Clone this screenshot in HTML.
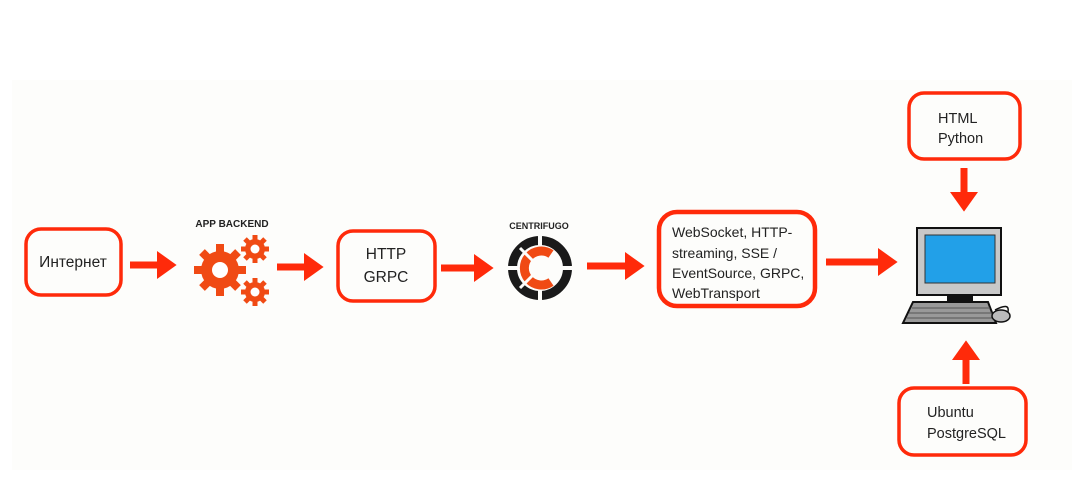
<!DOCTYPE html>
<html><head><meta charset="utf-8"><style>
html,body{margin:0;padding:0;background:#fff;}
svg{display:block;}
text{font-family:"Liberation Sans","DejaVu Sans",sans-serif;fill:#222;}
</style></head><body>
<svg width="1076" height="480" viewBox="0 0 1076 480" xmlns="http://www.w3.org/2000/svg">
<rect x="12" y="80" width="1060" height="390" fill="#fdfdfb"/>
<defs>
<marker id="ah" markerWidth="4" markerHeight="4" refX="1" refY="2" orient="auto" markerUnits="strokeWidth"><path d="M0,0 L2.8,2 L0,4 z" fill="#ff2a0a"/></marker>
</defs>
<g fill="none" stroke="#ff2a0a" stroke-width="3.5">
<rect x="26" y="229" width="95" height="66" rx="15"/>
<rect x="338" y="231" width="97" height="70" rx="15"/>
<rect x="659" y="212" width="156" height="94" rx="18" stroke-width="4.5"/>
<rect x="909" y="93" width="111" height="66" rx="15"/>
<rect x="899" y="388" width="127" height="67" rx="15"/>
</g>
<g stroke="#ff2a0a" stroke-width="7" marker-end="url(#ah)">
<line x1="130" y1="265" x2="164" y2="265"/>
<line x1="277" y1="267" x2="311" y2="267"/>
<line x1="441" y1="268" x2="481" y2="268"/>
<line x1="587" y1="266" x2="632" y2="266"/>
<line x1="826" y1="262" x2="885" y2="262"/>
<line x1="964" y1="168" x2="964" y2="199"/>
<line x1="966" y1="384" x2="966" y2="353"/>
</g>
<text x="73" y="267" font-size="15.5" text-anchor="middle">Интернет</text>
<text x="386" y="259" font-size="15.5" text-anchor="middle">HTTP</text>
<text x="386" y="282" font-size="15.5" text-anchor="middle">GRPC</text>
<g font-size="14">
<text x="672" y="237">WebSocket, HTTP-</text>
<text x="672" y="258">streaming, SSE /</text>
<text x="672" y="278">EventSource, GRPC,</text>
<text x="672" y="298">WebTransport</text>
</g>
<text x="938" y="123" font-size="14.5">HTML</text>
<text x="938" y="143" font-size="14.5">Python</text>
<text x="927" y="417" font-size="14.5">Ubuntu</text>
<text x="927" y="438" font-size="14.5">PostgreSQL</text>
<text x="232" y="227" font-size="10" text-anchor="middle" font-weight="bold" fill="#333">APP BACKEND</text>
<text x="539" y="229" font-size="9" text-anchor="middle" font-weight="bold" fill="#333">CENTRIFUGO</text>
<g fill="#f04a14">
<circle cx="220" cy="270" r="19"/>
<g stroke="#f04a14" stroke-width="8">
<line x1="220" y1="244" x2="220" y2="296"/><line x1="194" y1="270" x2="246" y2="270"/>
<line x1="202" y1="252" x2="238" y2="288"/><line x1="238" y1="252" x2="202" y2="288"/>
</g>
<circle cx="255" cy="249" r="10"/>
<g stroke="#f04a14" stroke-width="5">
<line x1="255" y1="235" x2="255" y2="263"/><line x1="241" y1="249" x2="269" y2="249"/>
<line x1="245" y1="239" x2="265" y2="259"/><line x1="265" y1="239" x2="245" y2="259"/>
</g>
<circle cx="255" cy="292" r="10"/>
<g stroke="#f04a14" stroke-width="5">
<line x1="255" y1="278" x2="255" y2="306"/><line x1="241" y1="292" x2="269" y2="292"/>
<line x1="245" y1="282" x2="265" y2="302"/><line x1="265" y1="282" x2="245" y2="302"/>
</g>
</g>
<circle cx="220" cy="270" r="8" fill="#fff"/>
<circle cx="255" cy="249" r="4.5" fill="#fff"/>
<circle cx="255" cy="292" r="4.5" fill="#fff"/>
<circle cx="540" cy="268" r="27.5" fill="none" stroke="#1a1a1a" stroke-width="9"/>
<g stroke="#fdfdfb" stroke-width="4">
<line x1="540" y1="232" x2="540" y2="304"/><line x1="504" y1="268" x2="576" y2="268"/>
</g>
<path d="M551,254 A17,17 0 1 0 551,282" fill="none" stroke="#f04a14" stroke-width="9"/>
<g stroke="#fdfdfb" stroke-width="3">
<line x1="540" y1="268" x2="520" y2="248"/><line x1="540" y1="268" x2="520" y2="288"/>
</g>
<rect x="917" y="228" width="84" height="67" fill="#c8c8c8" stroke="#111" stroke-width="2"/>
<rect x="925" y="235" width="70" height="48" fill="#22a0e8" stroke="#333" stroke-width="1"/>
<rect x="947" y="295" width="26" height="8" fill="#111"/>
<path d="M913,302 L988,302 L996,323 L903,323 Z" fill="#999" stroke="#111" stroke-width="2"/>
<g stroke="#555" stroke-width="1"><line x1="912" y1="308" x2="990" y2="308"/><line x1="909" y1="313" x2="992" y2="313"/><line x1="907" y1="318" x2="994" y2="318"/></g>
<path d="M995,310 Q1010,302 1008,312" fill="none" stroke="#111" stroke-width="1.5"/>
<ellipse cx="1001" cy="316" rx="9" ry="6" fill="#bbb" stroke="#111" stroke-width="1.5"/>
</svg>
</body></html>
